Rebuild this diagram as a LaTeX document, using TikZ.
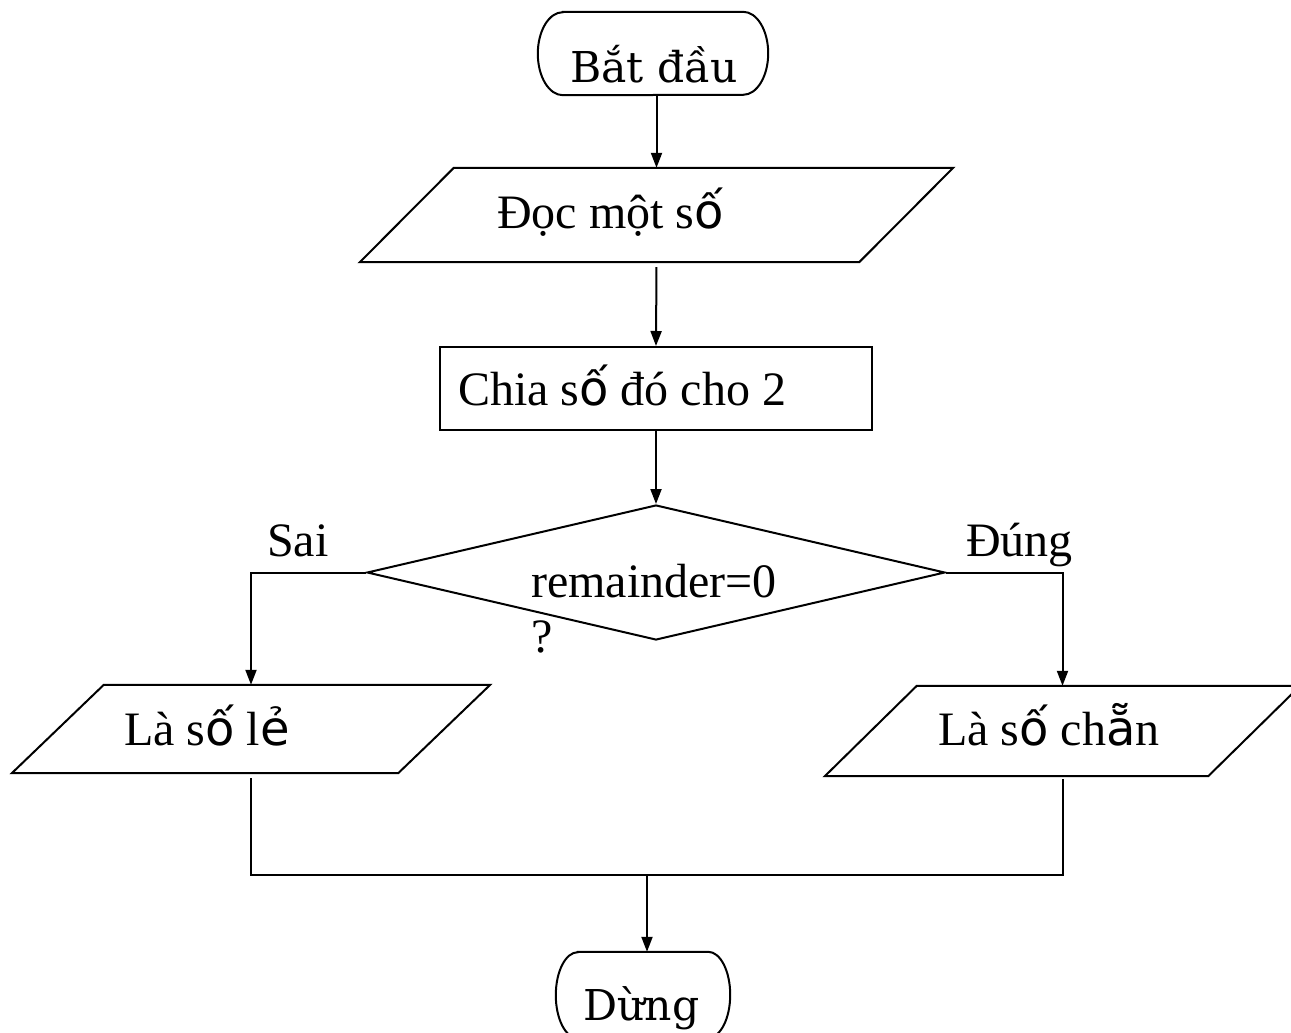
\documentclass[tikz,border=0pt]{standalone}
\usepackage{fontspec}
\setmainfont{Liberation Serif}
\newfontfamily\dvsans{DejaVu Sans}
\newfontfamily\dvserif{DejaVu Serif}
\usetikzlibrary{shapes.geometric,arrows.meta}
\tikzset{
  line/.style={line width=2pt},
  arr/.style={line, -{Triangle[length=15pt,width=11pt]}},
  frame/.style={rectangle, inner sep=0pt},
  procbox/.style={line, draw, rectangle, inner sep=0pt},
  decision/.style={line, draw, diamond, inner sep=0pt},
  txt/.style={inner sep=0pt, anchor=base west, font=\fontsize{48}{56}\selectfont},
  termtxt/.style={inner sep=0pt, anchor=base west, font=\dvserif\fontsize{42.5}{50}\selectfont},
}
% accented letters set in a sans face
\newcommand{\sv}[1]{{\dvsans #1}}
% slanted input/output outline spanning the frame of node #1, slant #2
\newcommand{\ioshape}[2]{%
  \draw[line, line join=miter] ([xshift=#2]#1.north west) -- (#1.north east)
    -- ([xshift=-#2]#1.south east) -- (#1.south west) -- cycle;}
% terminal outline (flat sides, elliptic ends) in the frame of node #1, end bulge #2, half height #3
\newcommand{\termshape}[3]{%
  \draw[line] ([xshift=#2]#1.north west) -- ([xshift=-#2]#1.north east)
    arc[start angle=90, end angle=-90, x radius=#2, y radius=#3]
    -- ([xshift=#2]#1.south west)
    arc[start angle=270, end angle=90, x radius=#2, y radius=#3] -- cycle;}
\begin{document}
\begin{tikzpicture}[x=1pt, y=-1pt]
  \useasboundingbox (0,0) rectangle (1291,1033);

  % start / stop terminals
  \node[frame, minimum width=230pt, minimum height=83pt] (start) at (653,53.5) {};
  \termshape{start}{25pt}{41.5pt}
  \node[termtxt] (startt) at (570,82) {Bắt đầu};
  \node[frame, minimum width=174pt, minimum height=86pt] (stop) at (643,995) {};
  \termshape{stop}{22pt}{43pt}
  \node[termtxt] (stopt) at (583,1020) {Dừng};

  % input
  \node[frame, minimum width=593pt, minimum height=94pt] (read) at (656.5,215) {};
  \ioshape{read}{94pt}
  \node[txt] (readt) at (497,228) {Đọc một s\sv{ố}};

  % process
  \node[procbox, minimum width=432pt, minimum height=83pt] (calc) at (656,388.5) {};
  \node[txt] (calct) at (458,405) {Chia s\sv{ố} đó cho 2};

  % decision
  \node[decision, minimum width=578pt, minimum height=135pt] (dec) at (656,572.5) {};
  \node[txt] (dect) at (531,597) {remainder=0};
  \node[txt] (decq) at (531,652) {?};
  \node[txt] (no) at (267,556) {Sai};
  \node[txt] (yes) at (966,556) {Đúng};

  % outputs
  \node[frame, minimum width=478pt, minimum height=88pt] (odd) at (251,729) {};
  \ioshape{odd}{92pt}
  \node[txt] (oddt) at (124,745) {Là s\sv{ố} l\sv{ẻ}};
  \node[frame, minimum width=475pt, minimum height=90pt] (even) at (1062.5,731) {};
  \ioshape{even}{92pt}
  \node[txt] (event) at (938,745) {Là s\sv{ố} ch\sv{ẵ}n};

  \coordinate (join) at (647,875);

  % connectors
  \draw[arr] (start.south -| read.north) -- (read.north);
  \draw[arr, shorten <=5pt] (read.south) -- (calc.north);
  \draw[arr] (calc.south) -- (dec.north);
  \draw[arr] (dec.west) -| (odd.north);
  \draw[arr] (dec.east) -| (even.north);
  \draw[line] ([yshift=-5pt]odd.south) -- (odd.south |- join) -- (even.south |- join) -- ([yshift=-3pt]even.south);
  \draw[arr] (join) -- (join |- stop.north);
\end{tikzpicture}
\end{document}
